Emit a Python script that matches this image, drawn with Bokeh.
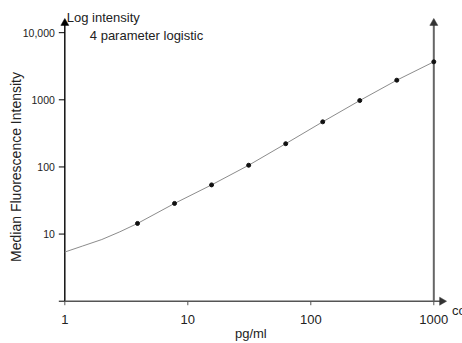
import math
from bokeh.plotting import figure
from bokeh.models import Range1d
from bokeh.core.properties import value
from bokeh.embed import file_html
from bokeh.resources import INLINE

# --- data ---
conc = [3.9, 7.8, 15.6, 31.25, 62.5, 125, 250, 500, 1000]
mfi = [14.4, 28.6, 54, 106, 222, 470, 975, 1960, 3680]

curve_x = [1, 1.4, 2, 2.8, 3.9, 7.8, 15.6, 31.25, 62.5, 125, 250, 500, 1000]
curve_y = [5.4, 6.65, 8.3, 10.8, 14.4, 28.6, 54, 106, 222, 470, 975, 1960, 3680]

x_ticks = [1, 10, 100, 1000]
x_tick_labels = ["1", "10", "100", "1000"]
y_ticks = [1, 10, 100, 1000, 10000]
y_tick_labels = ["", "10", "100", "1000", "10,000"]

# where the axis arrows end (centre of the arrow heads)
x_arrow_end = 1164
y_arrow_end = 13900

FONT = value("Liberation Sans")
TXT = "#222222"
W, H = 462, 343
x_range = Range1d(0.3, 1711)
y_range = Range1d(0.2344, 30150)

# the plotting frame fills the whole canvas; axes are drawn by hand
p = figure(width=W, height=H, x_axis_type="log", y_axis_type="log",
           x_range=x_range, y_range=y_range,
           output_backend="svg", toolbar_location=None,
           min_border_left=0, min_border_right=0, min_border_top=0,
           min_border_bottom=0)
p.xaxis.visible = False
p.yaxis.visible = False
p.grid.visible = False
p.outline_line_color = None
p.background_fill_color = "white"
p.border_fill_color = "white"

# pixels per decade on the y scale, to place text a fixed distance below a value
PPD_Y = H / math.log10(y_range.end / y_range.start)


def shift_y(y, px):
    """value lying px pixels above (positive) or below (negative) y"""
    return y * 10 ** (px / PPD_Y)


x0, y0 = x_ticks[0], y_ticks[0]

# axis lines
p.segment(x0=[x0], y0=[y0], x1=[x0], y1=[y_arrow_end],
          line_color="black", line_width=1.4)
p.segment(x0=[x0], y0=[y0], x1=[x_arrow_end], y1=[y0],
          line_color="#555555", line_width=1.5)
p.segment(x0=[x_ticks[-1]], y0=[y0], x1=[x_ticks[-1]], y1=[y_arrow_end],
          line_color="#666666", line_width=2)

# tick marks
p.ray(x=[x0] * len(y_ticks), y=y_ticks, length=6, length_units="screen",
      angle=math.pi, line_color="black", line_width=1)
p.ray(x=x_ticks, y=[y0] * len(x_ticks), length=4, length_units="screen",
      angle=-math.pi / 2, line_color="#555555", line_width=1)

# arrow heads
p.scatter(x=[x0, x_ticks[-1]], y=[y_arrow_end, y_arrow_end],
          marker="triangle", size=8, fill_color=["black", "#333333"],
          line_color=["black", "#333333"], line_width=0.5)
p.scatter(x=[x_arrow_end], y=[y0], marker="triangle", size=8,
          angle=-math.pi / 2, fill_color="#333333", line_color="#333333",
          line_width=0.5)

# curve and points
p.line(curve_x, curve_y, line_color="#8c8c8c", line_width=1)
p.scatter(conc, mfi, size=4, color="#111111")

# tick labels
yl = [(t, lab) for t, lab in zip(y_ticks, y_tick_labels) if lab]
p.text(x=[x0] * len(yl), y=[t for t, _ in yl], text=[lab for _, lab in yl],
       x_offset=-10, text_font=FONT, text_font_size="10.5px", text_color=TXT,
       text_align="right", text_baseline="middle")
p.text(x=x_ticks, y=[shift_y(y0, -18)] * len(x_ticks), text=x_tick_labels,
       text_font=FONT, text_font_size="13px", text_color=TXT,
       text_align="center", text_baseline="middle")

# axis titles
p.text(x=[x0], y=[math.sqrt(y_ticks[0] * y_ticks[-1])],
       text=["Median Fluorescence Intensity"], x_offset=-49, angle=math.pi / 2,
       text_font=FONT, text_font_size="14px", text_color=TXT,
       text_align="center", text_baseline="middle")
p.text(x=[math.sqrt(x_ticks[0] * x_ticks[-1])], y=[shift_y(y0, -32.5)],
       text=["pg/ml"], x_offset=1.5, text_font=FONT, text_font_size="13px",
       text_color=TXT, text_align="center", text_baseline="middle")

# other texts
p.text(x=[x0], y=[shift_y(y_arrow_end, 5.3)], text=["Log intensity"], x_offset=2,
       text_font=FONT, text_font_size="13px", text_color=TXT,
       text_align="left", text_baseline="alphabetic")
p.text(x=[x0], y=[shift_y(y_ticks[-1], -2.4)], text=["4 parameter logistic"],
       x_offset=25, text_font=FONT, text_font_size="13px", text_color=TXT,
       text_align="left", text_baseline="alphabetic")
p.text(x=[x_arrow_end], y=[shift_y(y0, -9.7)], text=["conc"], x_offset=10,
       text_font=FONT, text_font_size="13px", text_color=TXT,
       text_align="left", text_baseline="alphabetic")

open("out.html", "w").write(file_html(p, INLINE))
